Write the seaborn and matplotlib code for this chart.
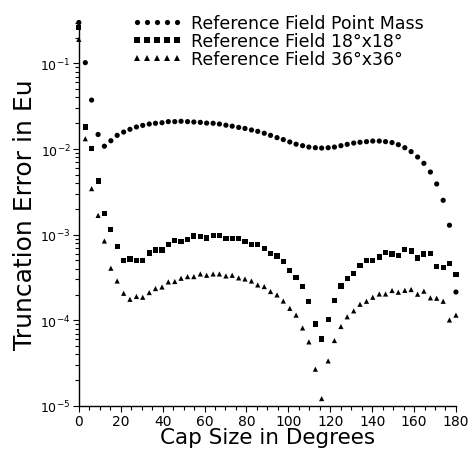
import matplotlib
matplotlib.use('Agg')
import matplotlib.pyplot as plt
import matplotlib.ticker as mticker
import numpy as np
import pandas as pd
import seaborn as sns

# cap sizes (deg) of the 60 computed points
cap_deg = [0.0, 3.1, 6.1, 9.2, 12.2, 15.3, 18.3, 21.4, 24.4, 27.5,
           30.5, 33.6, 36.6, 39.7, 42.7, 45.8, 48.8, 51.9, 54.9, 58.0,
           61.0, 64.1, 67.1, 70.2, 73.2, 76.3, 79.3, 82.4, 85.4, 88.5,
           91.5, 94.6, 97.6, 100.7, 103.7, 106.8, 109.8, 112.9, 115.9, 119.0,
           122.0, 125.1, 128.1, 131.2, 134.2, 137.3, 140.3, 143.4, 146.4, 149.5,
           152.5, 155.6, 158.6, 161.7, 164.7, 167.8, 170.8, 173.9, 176.9, 180.0]

point_mass = [0.30, 0.102, 0.0373, 0.0148, 0.0108, 0.0125, 0.01445, 0.0158, 0.0170, 0.0181,
              0.0189, 0.0196, 0.0200, 0.0203, 0.0209, 0.0209, 0.0211, 0.0209, 0.0207, 0.0205,
              0.0201, 0.0200, 0.0196, 0.0190, 0.0185, 0.0179, 0.0174, 0.0167, 0.0161, 0.0153,
              0.01445, 0.0136, 0.0129, 0.0121, 0.0114, 0.01095, 0.01055, 0.01037, 0.01027, 0.01037,
              0.01055, 0.01095, 0.01135, 0.01175, 0.0120, 0.0122, 0.0124, 0.0124, 0.0122, 0.0119,
              0.01125, 0.01037, 0.00933, 0.00807, 0.00681, 0.00539, 0.00391, 0.00252, 0.00129, 0.000214]

field_18 = [0.263, 0.0181, 0.0101, 0.00424, 0.00175, 0.00116, 0.000726, 0.000499, 0.000520, 0.000499,
            0.000499, 0.000611, 0.000662, 0.000662, 0.000766, 0.000861, 0.000838, 0.000877, 0.000966, 0.000951,
            0.000915, 0.000976, 0.000976, 0.000900, 0.000908, 0.000908, 0.000838, 0.000773, 0.000766, 0.000694,
            0.000598, 0.000564, 0.000489, 0.000384, 0.000313, 0.000250, 0.000166, 0.0000908, 0.0000607, 0.000103,
            0.000169, 0.000252, 0.000308, 0.000355, 0.000440, 0.000499, 0.000499, 0.000549, 0.000624, 0.000596,
            0.000575, 0.000670, 0.000645, 0.000535, 0.000596, 0.000602, 0.000428, 0.000413, 0.000460, 0.000345]

field_36 = [0.191, 0.0132, 0.00345, 0.00168, 0.000844, 0.000406, 0.000288, 0.000207, 0.000176, 0.000190,
            0.000186, 0.000211, 0.000235, 0.000245, 0.000281, 0.000284, 0.000310, 0.000324, 0.000324, 0.000348,
            0.000336, 0.000348, 0.000348, 0.000330, 0.000336, 0.000313, 0.000304, 0.000288, 0.000259, 0.000248,
            0.000217, 0.000198, 0.000168, 0.000138, 0.000115, 0.0000815, 0.0000560, 0.0000269, 0.0000122, 0.0000336,
            0.0000581, 0.0000847, 0.000110, 0.000129, 0.000154, 0.000167, 0.000186, 0.000203, 0.000203, 0.000223,
            0.000213, 0.000224, 0.000229, 0.000202, 0.000219, 0.000183, 0.000181, 0.000167, 0.000101, 0.000115]

labels = ['Reference Field Point Mass', 'Reference Field 18°x18°', 'Reference Field 36°x36°']

df = pd.concat([
    pd.DataFrame({'cap': cap_deg, 'err': point_mass, 'series': labels[0]}),
    pd.DataFrame({'cap': cap_deg, 'err': field_18, 'series': labels[1]}),
    pd.DataFrame({'cap': cap_deg, 'err': field_36, 'series': labels[2]}),
])

sns.set_style('ticks')
plt.rcParams['font.family'] = ['DejaVu Sans']
for key in ['text.color', 'axes.labelcolor', 'xtick.color', 'ytick.color', 'axes.edgecolor']:
    plt.rcParams[key] = 'black'

fig = plt.figure(figsize=(4.72, 4.52), dpi=100)
ax = fig.add_axes([0.167, 0.0996, 0.799, 0.851])

sns.scatterplot(data=df, x='cap', y='err', style='series', style_order=labels,
                markers={labels[0]: 'o', labels[1]: 's', labels[2]: '^'},
                color='black', s=14, linewidth=0, ax=ax, legend=True, clip_on=False)

ax.set_yscale('log')
ax.set_xlim(0, 180)
ax.set_ylim(1e-5, 0.31)

ax.set_xticks(range(0, 181, 20))
ax.set_xticklabels([str(v) for v in range(0, 181, 20)], fontsize=10)
ax.xaxis.set_minor_locator(mticker.MultipleLocator(5))

ax.set_yticks([1e-5, 1e-4, 1e-3, 1e-2, 1e-1])
ax.set_yticklabels(['10$^{-5}$', '10$^{-4}$', '10$^{-3}$', '10$^{-2}$', '10$^{-1}$'], fontsize=9)
ax.yaxis.set_minor_locator(mticker.LogLocator(base=10, subs=np.arange(2, 10)))
ax.yaxis.set_minor_formatter(mticker.NullFormatter())

ax.tick_params(axis='both', which='major', length=4, width=0.8, direction='out', pad=2)
ax.tick_params(axis='both', which='minor', length=3, width=0.8, direction='out')
sns.despine(ax=ax)
for sp in ax.spines.values():
    sp.set_linewidth(1.0)

ax.set_xlabel('Cap Size in Degrees', fontsize=15.5, labelpad=-1)
ax.set_ylabel('Truncation Error in Eu', fontsize=18, labelpad=2)

ax.legend(numpoints=5, scatterpoints=5, frameon=False, fontsize=12.5,
          loc='upper left', bbox_to_anchor=(0.265, 0.982), bbox_transform=fig.transFigure,
          handlelength=2.9, handletextpad=0.5, labelspacing=0.0, borderaxespad=0,
          title=None)

fig.savefig('out.png', dpi=100)
